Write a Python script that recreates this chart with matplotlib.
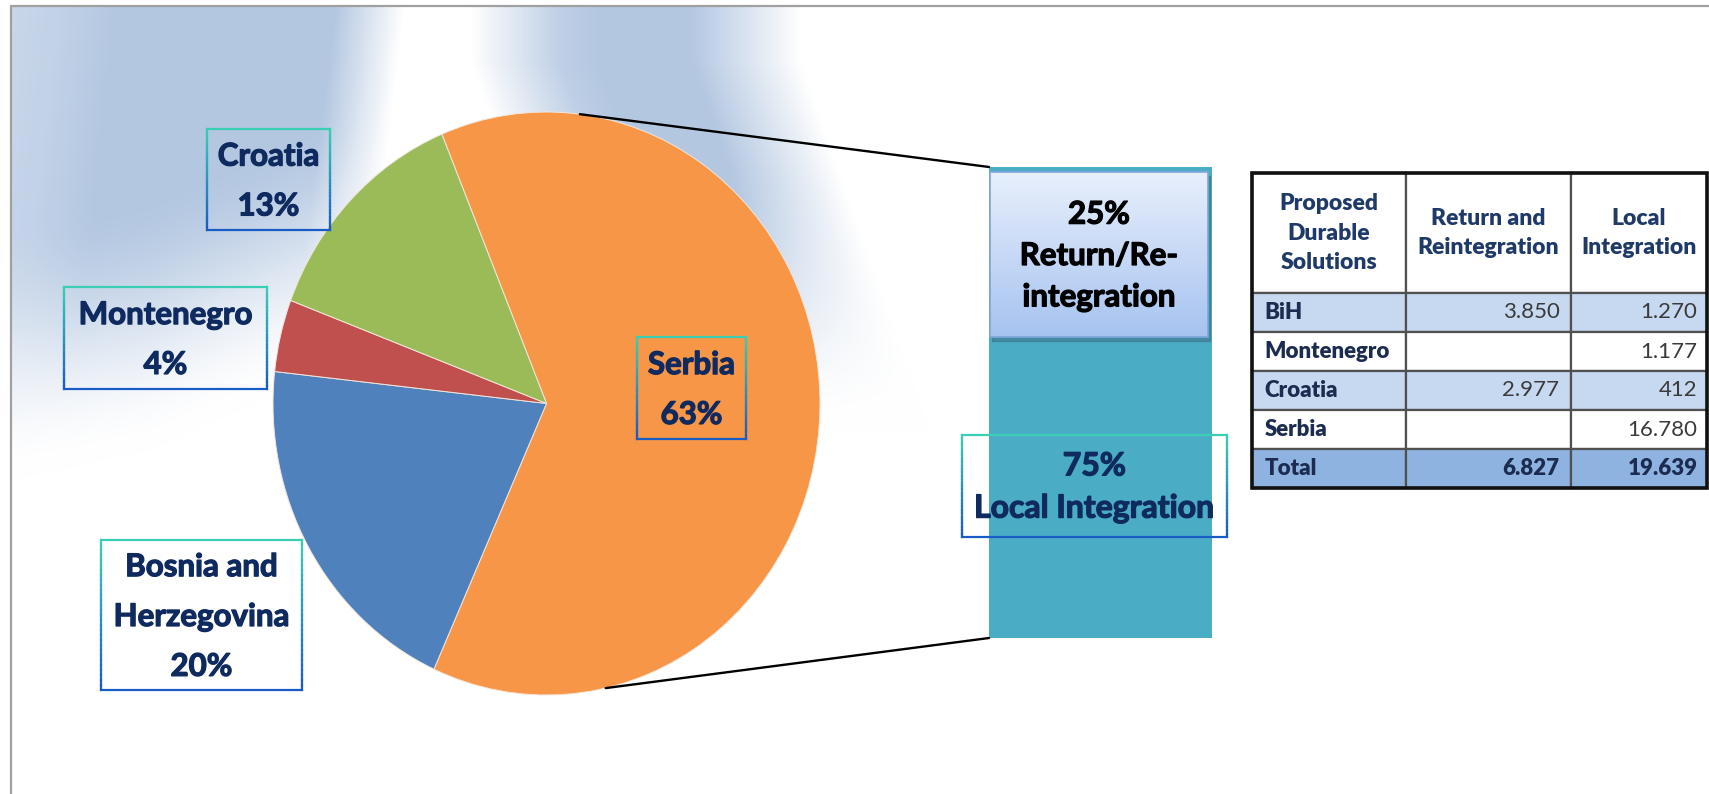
import numpy as np
import matplotlib
matplotlib.use("Agg")
import matplotlib.pyplot as plt
import matplotlib.patheffects as pe
from matplotlib.collections import LineCollection
from matplotlib.colors import LinearSegmentedColormap, to_rgb
from matplotlib.patches import ConnectionPatch, Rectangle

plt.rcParams["font.family"] = ["Lato", "DejaVu Sans"]

# ---- data ----
table_rows = ["BiH", "Montenegro", "Croatia", "Serbia"]
return_reint = [3850, None, 2977, None]
local_integr = [1270, 1177, 412, 16780]
table_header = ["Proposed\nDurable\nSolutions", "Return and\nReintegration", "Local\nIntegration"]

pie_order = ["Serbia", "BiH", "Montenegro", "Croatia"]
pie_names = ["Serbia", "Bosnia and\nHerzegovina", "Montenegro", "Croatia"]
pie_pct = [63, 20, 4, 13]
pie_colors = ["#F79646", "#4F81BD", "#C0504D", "#9BBB59"]

bar_labels = ["Local Integration", "Return/Re-\nintegration"]
bar_pct = [75, 25]

NAVY = "#0f2a5f"
W, H = 1709, 794


def fig_rect(x0, y0, x1, y1):
    return [x0 / W, 1 - y1 / H, (x1 - x0) / W, (y1 - y0) / H]


def fmt(v):
    return "" if v is None else f"{v:,}".replace(",", ".")


def bold_fx(color, w=0.9):
    return [pe.withStroke(linewidth=w, foreground=color)]


def grad_box(ax, x0, y0, x1, y1, c_top="#3acfb5", c_bot="#1a5cc6", lw=1.6):
    cmap = LinearSegmentedColormap.from_list("edge", [c_top, c_bot])
    n = 30
    ys = np.linspace(y0, y1, n + 1)
    segs, cols = [], []
    for x in (x0, x1):
        for i in range(n):
            segs.append([(x, ys[i]), (x, ys[i + 1])])
            cols.append(cmap(i / (n - 1)))
    segs += [[(x0, y0), (x1, y0)], [(x0, y1), (x1, y1)]]
    cols += [cmap(0.0), cmap(1.0)]
    ax.add_collection(LineCollection(segs, colors=cols, linewidths=lw,
                                     capstyle="projecting", zorder=4))


def smooth(t):
    t = np.clip(t, 0, 1)
    return t * t * (3 - 2 * t)


fig = plt.figure(figsize=(W / 100, H / 100), dpi=100)

# background: two slanted soft blue light beams in the upper left
bg = fig.add_axes([0, 0, 1, 1], zorder=0)
bg.set_xlim(0, W)
bg.set_ylim(H, 0)
bg.axis("off")
X, Y = np.meshgrid(np.arange(W, dtype=float), np.arange(H, dtype=float))
left_h = np.interp(X + 0.12 * Y, [11, 60, 120, 335, 405], [0.72, 0.8, 1.0, 1.0, 0.0])
left_v = smooth((np.interp(X, [11, 150, 330, 420], [480, 450, 370, 330]) - Y) / 260.0)
right_h = np.interp(X - 0.35 * np.maximum(Y - 60, 0),
                    [470, 560, 600, 690, 800], [0.0, 0.85, 1.0, 1.0, 0.0])
right_v = smooth((430 - Y) / 270.0)
alpha = np.maximum(left_h * left_v, right_h * right_v)
alpha[:7, :] = 0
alpha[:, :12] = 0
blue = np.array(to_rgb("#b3c7e1"))
img = (1 - alpha[..., None]) + blue * alpha[..., None]
bg.imshow(img, extent=(0, W, H, 0), aspect="auto", interpolation="bilinear")
bg.plot([11, 11, W + 5], [H + 5, 6, 6], color="#a0a0a0", lw=1.6)

# pie (slightly taller than wide, as in the source)
pie_ax = fig.add_axes(fig_rect(273, 112, 820, 695), zorder=1)
pie_ax.pie(pie_pct, colors=pie_colors, startangle=112.5, counterclock=False,
           wedgeprops=dict(edgecolor="#f2e6dc", linewidth=0.7))
pie_ax.set_aspect("auto")
pie_ax.set_xlim(-1, 1)
pie_ax.set_ylim(-1, 1)
pie_ax.axis("off")

# bar of pie
bar_ax = fig.add_axes(fig_rect(989, 167, 1212, 638), zorder=1)
bottom = 0
for v in bar_pct:
    bar_ax.bar(0, v, bottom=bottom, width=1.0, color="#4BACC6",
               edgecolor="#4BACC6", linewidth=0.8)
    bottom += v
bar_ax.set_xlim(-0.5, 0.5)
bar_ax.set_ylim(0, sum(bar_pct))
bar_ax.axis("off")

for ang, yb in ((83, sum(bar_pct)), (-77.5, 0)):
    con = ConnectionPatch(xyA=(np.cos(np.radians(ang)), np.sin(np.radians(ang))),
                          coordsA=pie_ax.transData, xyB=(-0.5, yb),
                          coordsB=bar_ax.transData, color="black", lw=1.7,
                          zorder=3)
    fig.add_artist(con)

# overlay for label boxes
ov = fig.add_axes([0, 0, 1, 1], zorder=5)
ov.axis("off")
ov.patch.set_alpha(0)

lab_boxes = {"Croatia": (207, 129, 330, 230), "Montenegro": (64, 287, 267, 389),
             "BiH": (101, 540, 302, 690), "Serbia": (637, 337, 746, 439)}
for c, name, pct in zip(pie_order, pie_names, pie_pct):
    x0, y0, x1, y1 = lab_boxes[c]
    grad_box(ov, x0, y0, x1, y1)
    ov.text((x0 + x1) / 2, (y0 + y1) / 2 + 2, f"{name}\n{pct}%", ha="center",
            va="center", ma="center", fontsize=22.5, fontweight="bold",
            color=NAVY, linespacing=1.95, zorder=6, path_effects=bold_fx(NAVY))

# 25% box: light gradient with a small shadow
x0, y0, x1, y1 = 990, 172, 1208, 337
ov.add_patch(Rectangle((x0 + 2, y0 + 4), x1 - x0, y1 - y0, color="#3d6f86",
                       alpha=0.55, zorder=3))
grad = np.linspace(0, 1, 100)[:, None]
top, bot = np.array(to_rgb("#e8effc")), np.array(to_rgb("#a6c3f0"))
gimg = top * (1 - grad[..., None]) + bot * grad[..., None]
gimg = np.repeat(gimg, 2, axis=1)
ov.imshow(gimg, extent=(x0, x1, y1, y0), aspect="auto", zorder=4)
ov.add_patch(Rectangle((x0, y0), x1 - x0, y1 - y0, fill=False,
                       edgecolor="#7fa6dd", lw=1.2, zorder=4))
ov.text((x0 + x1) / 2, 256, f"{bar_pct[1]}%\n{bar_labels[1]}", ha="center",
        va="center", ma="center", fontsize=22.5, fontweight="bold",
        color="black", linespacing=1.58, zorder=6, path_effects=bold_fx("black"))

x0, y0, x1, y1 = 962, 435, 1227, 537
grad_box(ov, x0, y0, x1, y1)
ov.text((x0 + x1) / 2, 487, f"{bar_pct[0]}%\n{bar_labels[0]}", ha="center",
        va="center", ma="center", fontsize=23, fontweight="bold",
        color=NAVY, linespacing=1.55, zorder=6, path_effects=bold_fx(NAVY))
ov.set_xlim(0, W)
ov.set_ylim(H, 0)

# table
tab_ax = fig.add_axes(fig_rect(1252, 173, 1707, 488), zorder=2)
tab_ax.axis("off")
cell_text = [[r, fmt(a), fmt(b)] for r, a, b in zip(table_rows, return_reint, local_integr)]
tot_r = sum(v for v in return_reint if v)
tot_l = sum(local_integr)
cell_text.append(["Total", fmt(tot_r), fmt(tot_l)])
row_fill = ["#c6d9f1", "white", "#c6d9f1", "white", "#8eb3e1"]
col_w = np.array([154, 165, 136], float)
tbl = tab_ax.table(cellText=[table_header] + cell_text,
                   cellColours=[["white"] * 3] + [[f] * 3 for f in row_fill],
                   colWidths=list(col_w / col_w.sum()), bbox=[0, 0, 1, 1])
tbl.auto_set_font_size(False)
last = len(cell_text)
for (r, c), cell in tbl.get_celld().items():
    cell.set_edgecolor("#505050")
    cell.set_linewidth(1.6)
    cell.set_height(120 if r == 0 else 39)
    if r == 0:
        loc = "center"
        cell.set_text_props(fontsize=16.5, fontweight="heavy", color="#1f3a68",
                            linespacing=1.5)
    elif c == 0:
        loc = "left"
        cell.PAD = 0.08
        cell.set_text_props(fontsize=16, fontweight="heavy", color="#1c2b50")
    else:
        loc = "right"
        cell.PAD = 0.07
        cell.set_text_props(fontsize=16, color="#1c2b50" if r == last else "#3a3a3a",
                            fontweight="heavy" if r == last else "normal")
    cell._loc = loc
    cell.get_text().set_horizontalalignment(loc)
tab_ax.add_patch(Rectangle((0, 0), 1, 1, transform=tab_ax.transAxes, fill=False,
                           edgecolor="#111111", lw=2.6, clip_on=False, zorder=5))

fig.savefig("out.png", dpi=100)
